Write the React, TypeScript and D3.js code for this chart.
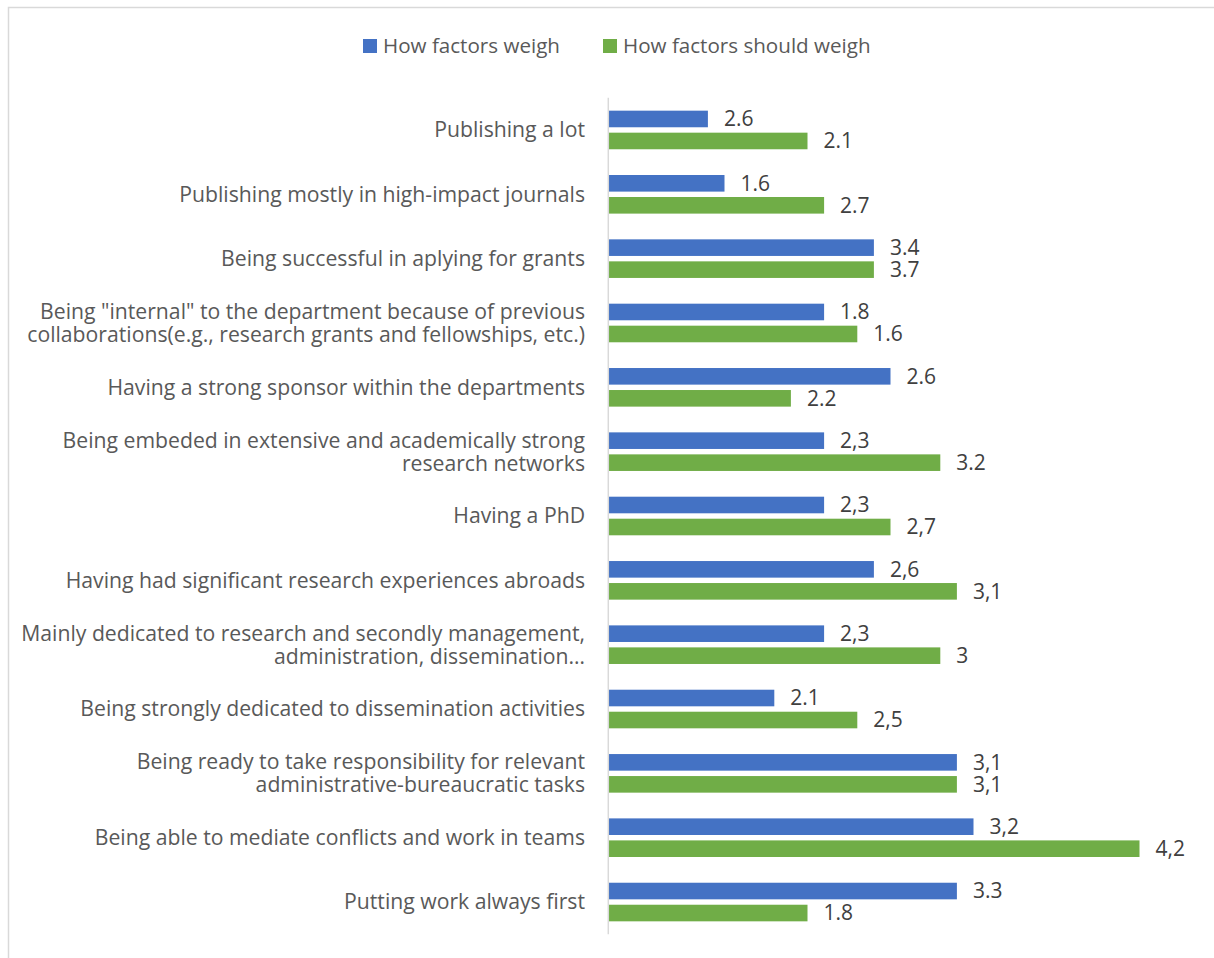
import React from "react";
import * as d3 from "d3";

const categories: string[][] = [
  ["Publishing a lot"],
  ["Publishing mostly in high-impact journals"],
  ["Being successful in aplying for grants"],
  ["Being \"internal\" to the department because of previous", "collaborations(e.g., research grants and fellowships, etc.)"],
  ["Having a strong sponsor within the departments"],
  ["Being embeded in extensive and academically strong", "research networks"],
  ["Having a PhD"],
  ["Having had significant research experiences abroads"],
  ["Mainly dedicated to research and secondly management,", "administration, dissemination…"],
  ["Being strongly dedicated to dissemination activities"],
  ["Being ready to take responsibility for relevant", "administrative-bureaucratic tasks"],
  ["Being able to mediate conflicts and work in teams"],
  ["Putting work always first"],
];

const seriesNames = ["How factors weigh", "How factors should weigh"];
const seriesColors = ["#4472C4", "#70AD47"];

// bar lengths as drawn
const weighValues = [1.6, 1.7, 2.6, 2.3, 2.7, 2.3, 2.3, 2.6, 2.3, 2.0, 3.1, 3.2, 3.1];
const shouldValues = [2.2, 2.3, 2.6, 2.5, 2.1, 3.0, 2.7, 3.1, 3.0, 2.5, 3.1, 4.2, 2.2];

// data labels as printed
const weighLabels = ["2.6", "1.6", "3.4", "1.8", "2.6", "2,3", "2,3", "2,6", "2,3", "2.1", "3,1", "3,2", "3.3"];
const shouldLabels = ["2.1", "2.7", "3.7", "1.6", "2.2", "3.2", "2,7", "3,1", "3", "2,5", "3,1", "4,2", "1.8"];

const FONT = "'Open Sans', sans-serif";

export default function App() {
  const W = 1214;
  const H = 958;
  const x = d3.scaleLinear().domain([1, 4.5]).range([608.3, 608.3 + 3.5 * 166]);
  const ids = categories.map((_, i) => String(i));
  const y = d3.scaleBand<string>().domain(ids).range([97.8, 934.2]);
  const bw = y.bandwidth();
  const barH = 16.6;
  const gap = 5.4;
  const series = [
    { values: weighValues, labels: weighLabels, color: seriesColors[0], off: -gap / 2 - barH },
    { values: shouldValues, labels: shouldLabels, color: seriesColors[1], off: gap / 2 },
  ];
  const legendItems = [
    { x: 363, name: seriesNames[0], color: seriesColors[0] },
    { x: 603, name: seriesNames[1], color: seriesColors[1] },
  ];
  return (
    <svg
      width={W}
      height={H}
      style={{ position: "absolute", left: 0, top: 0, display: "block", background: "#fff" }}
      fontFamily={FONT}
    >
      <rect x={8.5} y={7.5} width={1300} height={1100} fill="#fff" stroke="#d9d9d9" strokeWidth={1.5} />
      {legendItems.map((l) => (
        <g key={l.name}>
          <rect x={l.x} y={39} width={14} height={14} fill={l.color} />
          <text x={l.x + 20} y={46} dy="0.35em" fontSize={20.6} fill="#595959">
            {l.name}
          </text>
        </g>
      ))}
      {categories.map((lines, i) => {
        const cy = (y(String(i)) as number) + bw / 2;
        const lh = 23;
        return (
          <text key={"c" + i} textAnchor="end" fontSize={21.2} fill="#595959">
            {lines.map((ln, j) => (
              <tspan key={j} x={585} y={cy + (j - (lines.length - 1) / 2) * lh} dy="0.35em">
                {ln}
              </tspan>
            ))}
          </text>
        );
      })}
      {series.map((s, si) =>
        s.values.map((v, i) => {
          const cy = (y(String(i)) as number) + bw / 2;
          const y0 = cy + s.off;
          return (
            <g key={"b" + si + "-" + i}>
              <rect x={x(1)} y={y0} width={x(v) - x(1)} height={barH} fill={s.color} />
              <text x={x(v) + 16} y={y0 + barH / 2} dy="0.35em" fontSize={21} fill="#404040">
                {s.labels[i]}
              </text>
            </g>
          );
        })
      )}
      <line x1={x(1)} x2={x(1)} y1={y.range()[0]} y2={y.range()[1]} stroke="#d9d9d9" strokeWidth={1.5} />
    </svg>
  );
}
